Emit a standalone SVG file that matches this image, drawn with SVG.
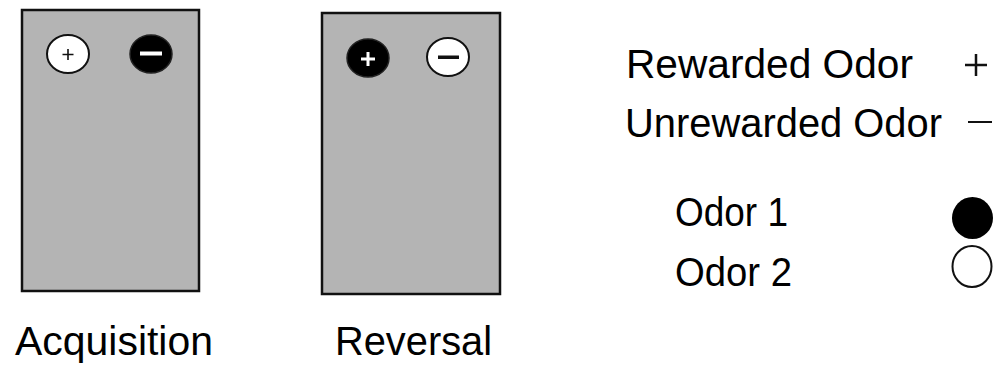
<svg xmlns="http://www.w3.org/2000/svg" width="1000" height="368" viewBox="0 0 1000 368">
<style>
.box{fill:#b4b4b4;stroke:#111;stroke-width:2.5}
.wc{fill:#fff;stroke:#111;stroke-width:2}
.bc{fill:#000;stroke:#222;stroke-width:1.5}
.t{font-family:"Liberation Sans",Arial,sans-serif;font-size:40px;fill:#000}
.wl{stroke:#fff;fill:none}
.bl{stroke:#111;fill:none}
</style>
<rect width="1000" height="368" fill="#fff"/>
<g id="acquisition">
<rect class="box" x="22" y="10" width="177" height="281"/>
<ellipse class="wc" cx="68" cy="54" rx="21" ry="19"/>
<path class="bl" stroke-width="1.6" d="M62.5 54.5h11M68 49v11"/>
<ellipse class="bc" cx="151" cy="54" rx="21" ry="19"/>
<rect x="140" y="51.5" width="22" height="4" fill="#fff"/>
<text class="t" x="15" y="355" textLength="198" lengthAdjust="spacingAndGlyphs">Acquisition</text>
</g>
<g id="reversal">
<rect class="box" x="322" y="13" width="178" height="281"/>
<ellipse class="bc" cx="368" cy="58" rx="21" ry="19"/>
<path class="wl" stroke-width="3" d="M361 59h14M368 52v14"/>
<ellipse class="wc" cx="448" cy="57" rx="21" ry="19"/>
<rect x="438" y="55.5" width="21" height="3.5" fill="#111"/>
<text class="t" x="335" y="355" textLength="157" lengthAdjust="spacingAndGlyphs">Reversal</text>
</g>
<g id="legend">
<text class="t" x="626" y="78" textLength="287" lengthAdjust="spacingAndGlyphs">Rewarded Odor</text>
<path class="bl" stroke-width="2.5" d="M965 65h22M976 54v22"/>
<text class="t" x="625" y="137" textLength="317" lengthAdjust="spacingAndGlyphs">Unrewarded Odor</text>
<path class="bl" stroke-width="2" d="M968 122h24"/>
<text class="t" x="675" y="226" textLength="113" lengthAdjust="spacingAndGlyphs">Odor 1</text>
<ellipse cx="972.5" cy="218" rx="20.5" ry="21" fill="#000"/>
<text class="t" x="675" y="286" textLength="117" lengthAdjust="spacingAndGlyphs">Odor 2</text>
<ellipse class="wc" cx="972" cy="266.5" rx="19.5" ry="20.5"/>
</g>
</svg>
